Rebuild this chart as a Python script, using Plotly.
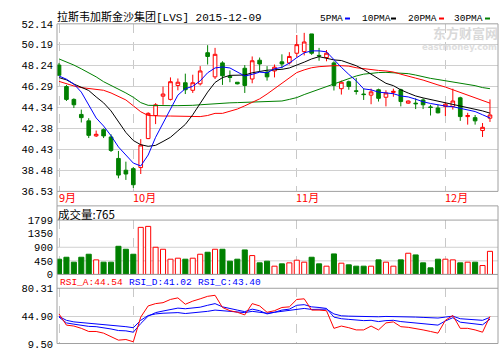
import plotly.graph_objects as go

# ---------------- data ----------------
dates = [
    "2015-09-17", "2015-09-18", "2015-09-21", "2015-09-22", "2015-09-23", "2015-09-24", "2015-09-25",
    "2015-09-28", "2015-09-29", "2015-09-30",
    "2015-10-01", "2015-10-02", "2015-10-05", "2015-10-06", "2015-10-07", "2015-10-08", "2015-10-09",
    "2015-10-12", "2015-10-13", "2015-10-14", "2015-10-15", "2015-10-16", "2015-10-19", "2015-10-20",
    "2015-10-21", "2015-10-22", "2015-10-23", "2015-10-26", "2015-10-27", "2015-10-28", "2015-10-29",
    "2015-10-30",
    "2015-11-02", "2015-11-03", "2015-11-04", "2015-11-05", "2015-11-06", "2015-11-09", "2015-11-10",
    "2015-11-11", "2015-11-12", "2015-11-13", "2015-11-16", "2015-11-17", "2015-11-18", "2015-11-19",
    "2015-11-20", "2015-11-23", "2015-11-24", "2015-11-25", "2015-11-27", "2015-11-30",
    "2015-12-01", "2015-12-02", "2015-12-03", "2015-12-04", "2015-12-07", "2015-12-08", "2015-12-09",
]
open_ = [48.30, 46.30, 45.10, 43.70, 43.10, 41.70, 42.28, 41.60, 39.60, 38.50,
         38.65, 38.75, 41.45, 43.60, 45.40, 45.10, 46.40, 46.65, 45.95, 46.55,
         49.45, 47.20, 48.50, 47.25, 46.70, 48.00, 47.00, 48.75, 47.65, 47.75,
         48.60, 48.50, 49.40, 49.55, 51.20, 49.20, 49.00, 48.50, 46.10, 46.75,
         45.90, 45.60, 45.50, 46.00, 45.30, 45.75, 46.00, 44.75, 44.75, 45.05,
         44.40, 44.30, 44.45, 44.45, 45.25, 43.50, 43.40, 42.20, 43.35]
high = [48.50, 46.45, 45.20, 44.15, 43.35, 42.20, 42.40, 41.85, 40.30, 39.30,
        38.80, 41.40, 43.90, 44.75, 46.30, 47.15, 47.05, 47.50, 47.40, 48.20,
        50.15, 49.90, 48.65, 47.80, 46.70, 48.30, 49.10, 49.00, 48.20, 48.35,
        49.30, 49.50, 51.10, 51.30, 51.20, 49.90, 49.70, 48.65, 46.85, 46.85,
        47.10, 46.10, 46.10, 46.10, 45.95, 46.10, 46.10, 45.00, 45.20, 45.20,
        44.60, 44.60, 44.80, 46.10, 45.35, 43.85, 43.65, 42.90, 45.10]
low = [47.30, 44.95, 44.30, 42.95, 41.50, 41.60, 41.50, 40.20, 37.75, 37.60,
       36.85, 38.15, 41.40, 42.80, 44.60, 45.00, 45.95, 45.60, 45.70, 46.40,
       48.35, 47.00, 46.45, 46.70, 46.50, 45.70, 46.60, 47.75, 46.85, 47.15,
       48.00, 48.35, 49.00, 49.20, 49.25, 48.70, 48.65, 45.93, 45.55, 46.00,
       45.55, 45.05, 44.65, 44.90, 44.45, 45.35, 44.45, 44.70, 44.20, 44.20,
       43.60, 43.80, 43.55, 44.15, 43.10, 42.75, 42.75, 41.60, 43.00]
close = [47.35, 45.10, 44.60, 43.40, 41.75, 41.85, 41.70, 40.35, 38.05, 38.15,
         37.15, 40.85, 43.80, 44.60, 45.60, 46.75, 46.70, 46.00, 46.65, 47.75,
         49.10, 49.30, 47.30, 47.15, 46.55, 46.40, 48.70, 48.40, 47.20, 48.10,
         48.40, 49.10, 50.20, 50.45, 49.40, 49.15, 49.40, 46.40, 46.70, 46.30,
         45.85, 45.55, 45.80, 45.20, 45.70, 45.85, 44.90, 44.95, 44.70, 44.60,
         44.35, 43.85, 44.65, 44.95, 43.50, 43.60, 43.10, 42.50, 43.65]
volume = [505, 570, 406, 570, 669, 483, 406, 406, 932, 834,
          669, 1558, 1591, 900, 834, 505, 538, 505, 538, 669,
          735, 834, 834, 439, 505, 812, 625, 384, 439, 274,
          351, 384, 472, 406, 570, 351, 274, 680, 373, 318,
          274, 274, 274, 483, 406, 274, 483, 702, 647, 384,
          219, 505, 505, 483, 384, 406, 406, 296, 765]
ma5 = [47.28, 46.98, 46.53, 45.78, 44.58, 43.37, 42.62, 41.72, 40.67, 39.92,
       39.17, 38.90, 39.92, 41.57, 42.92, 44.27, 45.50, 46.10, 46.32, 46.83,
       47.58, 48.03, 48.12, 48.03, 47.64, 47.28, 47.43, 47.64, 47.58, 47.95,
       48.09, 48.48, 48.99, 49.44, 49.62, 49.62, 49.53, 48.78, 48.09, 47.43,
       46.83, 46.08, 45.99, 45.78, 45.69, 45.63, 45.42, 45.33, 45.12, 44.88,
       44.72, 44.57, 44.48, 44.42, 44.27, 44.12, 43.97, 43.67, 43.37]
ma10 = [47.13, 46.92, 46.53, 46.23, 45.93, 45.33, 44.78, 44.03, 42.98, 42.02,
        41.27, 40.88, 40.73, 40.82, 41.18, 41.57, 42.17, 42.77, 43.67, 44.72,
        45.78, 46.68, 47.13, 47.34, 47.37, 47.37, 47.58, 47.73, 47.82, 47.86,
        47.90, 48.03, 48.27, 48.57, 48.87, 49.08, 48.93, 48.78, 48.72, 48.48,
        48.24, 47.88, 47.43, 46.98, 46.60, 46.38, 45.99, 45.69, 45.42, 45.24,
        45.09, 44.94, 44.82, 44.67, 44.48, 44.36, 44.18, 44.03, 43.82]
ma20 = [46.78, 46.55, 46.35, 46.20, 46.12, 46.04, 45.95, 45.70, 45.40, 45.05,
        44.50, 43.95, 43.60, 43.55, 43.55, 43.55, 43.55, 43.55, 43.50, 43.50,
        43.60, 43.80, 43.80, 44.00, 44.20, 44.50, 44.80, 45.15, 45.60, 46.10,
        46.55, 47.10, 47.60, 47.85, 48.05, 48.15, 48.22, 48.24, 48.24, 48.20,
        48.05, 47.95, 47.85, 47.80, 47.75, 47.65, 47.45, 47.30, 47.08, 46.90,
        46.65, 46.45, 46.25, 46.00, 45.80, 45.55, 45.30, 45.05, 44.75]
ma30 = [48.87, 48.60, 48.30, 47.95, 47.60, 47.20, 46.75, 46.40, 46.10, 45.70,
        45.30, 44.80, 44.55, 44.52, 44.52, 44.52, 44.52, 44.52, 44.55, 44.60,
        44.66, 44.70, 44.72, 44.78, 44.80, 44.82, 44.85, 44.87, 44.87, 44.87,
        44.95, 45.10, 45.27, 45.55, 45.80, 46.05, 46.23, 46.50, 46.80, 47.05,
        47.28, 47.45, 47.55, 47.60, 47.62, 47.60, 47.58, 47.50, 47.37, 47.20,
        47.06, 46.95, 46.85, 46.75, 46.60, 46.50, 46.38, 46.20, 46.10]
rsi_a = [47.7, 33.5, 32.3, 29.4, 25.4, 25.4, 23.3, 19.3, 14.4, 15.2,
         12.3, 43.7, 57.9, 60.8, 62.0, 66.1, 68.1, 60.0, 64.0, 66.9,
         70.1, 71.4, 55.9, 51.8, 49.8, 46.5, 60.8, 57.9, 49.8, 51.8,
         55.9, 56.7, 66.1, 66.9, 52.6, 52.6, 51.8, 29.4, 32.3, 30.2,
         27.4, 27.4, 32.3, 27.4, 36.3, 37.6, 31.5, 30.7, 29.4, 27.4,
         25.4, 23.3, 39.6, 45.7, 29.4, 29.4, 27.4, 24.5, 44.54]
rsi_d = [43.7, 36.3, 34.7, 33.1, 31.9, 31.5, 30.2, 28.6, 26.6, 26.2,
         24.5, 35.5, 44.9, 49.4, 51.4, 53.4, 55.1, 54.3, 55.1, 56.3,
         58.7, 60.8, 56.7, 54.3, 52.6, 50.6, 53.8, 51.8, 47.7, 49.8,
         52.6, 53.8, 58.7, 59.5, 56.7, 55.9, 54.7, 43.7, 41.6, 40.8,
         39.6, 39.2, 39.6, 38.0, 39.2, 39.6, 38.0, 37.2, 36.3, 35.5,
         34.7, 33.5, 38.8, 42.9, 37.2, 36.3, 35.1, 33.9, 41.02]
rsi_c = [44.5, 39.6, 37.6, 36.8, 36.0, 35.1, 34.3, 33.5, 32.3, 31.5,
         30.2, 39.6, 45.7, 47.7, 48.6, 49.0, 49.4, 48.2, 49.0, 49.8,
         51.0, 52.6, 51.8, 51.0, 50.2, 49.4, 51.0, 49.8, 48.6, 49.8,
         51.0, 51.8, 53.8, 54.7, 53.4, 53.4, 53.8, 47.7, 45.3, 44.9,
         44.5, 44.5, 44.5, 44.1, 44.5, 44.5, 44.1, 43.7, 43.7, 43.3,
         42.9, 42.5, 43.7, 44.9, 41.6, 40.8, 40.4, 39.6, 43.40]
price_ticks = [36.53, 38.48, 40.43, 42.38, 44.34, 46.29, 48.24, 50.19, 52.14]
vol_ticks = [0, 450, 900, 1350, 1799]
vol_grid = [450, 900]
rsi_ticks = [9.50, 44.90, 80.31]
title_text = "拉斯韦加斯金沙集团[LVS] 2015-12-09"
ma_names = ["5PMA", "10PMA", "20PMA", "30PMA"]

# ---------------- styling ----------------
W, H = 500, 351
RED, GREEN, BLUE, BLACK = "#ff0000", "#008000", "#0000ff", "#000000"
BORDER = "#a0a0a0"
GRID = "#d0d0d0"
MONO = "Liberation Mono, Noto Sans CJK SC"
CJK = "Noto Sans CJK SC, Liberation Mono"


def py(p):
    return max(0.0, min(1.0, 1 - p / H))


XL, XR = 57 / W, 498 / W
main_dom = [py(193), py(19.5)]
vol_dom = [py(279), py(222.7)]
rsi_dom = [py(351), py(293.3)]
n = len(dates)
xs = list(range(n))
x_range = [-0.27, n + 0.08]

month_first = [0] + [i for i in range(1, n) if dates[i][5:7] != dates[i - 1][5:7]]
month_labels = [f"{int(dates[i][5:7])}月" for i in month_first]

up = [c >= o for o, c in zip(open_, close)]
vol_fill = ["#ffffff" if u else GREEN for u in up]
vol_line = [RED if u else GREEN for u in up]

fig = go.Figure()

fig.add_trace(go.Candlestick(
    x=xs, open=open_, high=high, low=low, close=close,
    increasing=dict(line=dict(color=RED, width=1), fillcolor="#ffffff"),
    decreasing=dict(line=dict(color=GREEN, width=1), fillcolor=GREEN),
    whiskerwidth=0, xaxis="x", yaxis="y", showlegend=False, hoverinfo="skip",
))
for vals, col in [(ma30, GREEN), (ma20, RED), (ma10, BLACK), (ma5, BLUE)]:
    fig.add_trace(go.Scatter(x=xs, y=vals, mode="lines", line=dict(color=col, width=1),
                             xaxis="x", yaxis="y", showlegend=False, hoverinfo="skip"))

fig.add_trace(go.Bar(x=xs, y=volume, width=0.68,
                     marker=dict(color=vol_fill, line=dict(color=vol_line, width=1)),
                     xaxis="x2", yaxis="y2", showlegend=False, hoverinfo="skip"))

for vals, col in [(rsi_c, BLUE), (rsi_d, BLUE), (rsi_a, RED)]:
    fig.add_trace(go.Scatter(x=xs, y=vals, mode="lines", line=dict(color=col, width=1),
                             xaxis="x3", yaxis="y3", showlegend=False, hoverinfo="skip"))

xcommon = dict(domain=[XL, XR], range=x_range, showticklabels=False, tickvals=month_first,
               showgrid=True, gridcolor="#c8c8c8", griddash="dash", gridwidth=1,
               zeroline=False, showline=False, ticks="", fixedrange=True)
ytick_font = dict(family=MONO, size=10.5, color=BLACK)
ycommon = dict(showline=False, zeroline=False, ticks="", tickfont=ytick_font,
               gridcolor=GRID, gridwidth=1, fixedrange=True, ticklabelstandoff=3)

fig.update_layout(
    width=W, height=H, margin=dict(l=0, r=0, t=0, b=0),
    paper_bgcolor="#ffffff", plot_bgcolor="#ffffff", showlegend=False,
    boxgap=0.3,
    xaxis=dict(**xcommon, anchor="y", rangeslider=dict(visible=False)),
    xaxis2=dict(**xcommon, anchor="y2"),
    xaxis3=dict(**xcommon, anchor="y3"),
    yaxis=dict(**ycommon, domain=main_dom, anchor="x", range=[price_ticks[0], price_ticks[-1]],
               tickvals=price_ticks, ticktext=[f"{v:.2f}" for v in price_ticks], showgrid=True),
    yaxis2=dict(**ycommon, domain=vol_dom, anchor="x2", range=[0, vol_ticks[-1]],
                tickvals=vol_ticks, ticktext=[str(v) for v in vol_ticks], showgrid=False),
    yaxis3=dict(**ycommon, domain=rsi_dom, anchor="x3", range=[rsi_ticks[0], rsi_ticks[-1]],
                tickvals=rsi_ticks, ticktext=[f"{v:.2f}" for v in rsi_ticks], showgrid=True),
)

shapes = []
# panel borders
shapes.append(dict(type="rect", xref="paper", yref="paper", x0=XL, x1=XR,
                   y0=main_dom[0], y1=main_dom[1], line=dict(color=BORDER, width=1)))
shapes.append(dict(type="rect", xref="paper", yref="paper", x0=XL, x1=XR,
                   y0=vol_dom[0], y1=py(208), line=dict(color=BORDER, width=1)))
shapes.append(dict(type="line", xref="paper", yref="paper", x0=XL, x1=XR,
                   y0=vol_dom[1], y1=vol_dom[1], line=dict(color=BORDER, width=1)))
shapes.append(dict(type="rect", xref="paper", yref="paper", x0=XL, x1=XR,
                   y0=py(350.5), y1=vol_dom[0], line=dict(color=BORDER, width=1)))
shapes.append(dict(type="line", xref="paper", yref="paper", x0=XL, x1=XR,
                   y0=rsi_dom[1], y1=rsi_dom[1], line=dict(color=BORDER, width=1)))
shapes.append(dict(type="line", xref="paper", yref="paper", x0=XL, x1=XL,
                   y0=py(208), y1=main_dom[0], line=dict(color=BORDER, width=1)))
# volume grid lines
for v in vol_grid:
    shapes.append(dict(type="line", xref="paper", yref="y2", x0=XL, x1=XR, y0=v, y1=v,
                       line=dict(color=GRID, width=1), layer="below"))

annotations = []
annotations.append(dict(text=title_text, x=55 / W, y=py(12), xref="paper", yref="paper",
                        xanchor="left", yanchor="middle", showarrow=False,
                        font=dict(family=MONO, size=11, color=BLACK)))
# watermark
annotations.append(dict(text="<b>东方财富网</b>", x=499 / W, y=py(28.5), xref="paper", yref="paper",
                        xanchor="right", yanchor="middle", showarrow=False, borderpad=0,
                        font=dict(family=CJK, size=13, color="#d9d9d9")))
annotations.append(dict(text="<b>eastmoney.com</b>", x=498 / W, y=py(43.5), xref="paper", yref="paper",
                        xanchor="right", yanchor="middle", showarrow=False, borderpad=0,
                        font=dict(family="DejaVu Sans", size=8.5, color="#dedede")))
# MA legend
legend_x = [318, 360, 406, 452]
legend_cols = [BLUE, BLACK, RED, GREEN]
legend_w = [24, 28, 30, 30]
for name, lx, lw, col in zip(ma_names, legend_x, legend_w, legend_cols):
    annotations.append(dict(text=name, x=lx / W, y=py(14), xref="paper", yref="paper",
                            xanchor="left", yanchor="middle", showarrow=False,
                            font=dict(family=MONO, size=9.5, color=BLACK)))
    shapes.append(dict(type="line", xref="paper", yref="paper", x0=(lx + lw + 3) / W,
                       x1=(lx + lw + 8) / W, y0=py(14), y1=py(14), line=dict(color=col, width=2)))
# month labels
for xi, lab in zip(month_first, month_labels):
    annotations.append(dict(text=lab, x=xi - 0.2, y=py(199), xref="x", yref="paper",
                            xanchor="left", yanchor="middle", showarrow=False, borderpad=0,
                            font=dict(family=CJK, size=11, color=RED)))
# volume title
annotations.append(dict(text=f"成交量:{volume[-1]}", x=57 / W, y=py(216.5), xref="paper", yref="paper",
                        xanchor="left", yanchor="middle", showarrow=False, borderpad=0,
                        font=dict(family=CJK, size=11.5, color=BLACK)))
# RSI title
rsi_title = [("RSI_A", rsi_a[-1], RED, 58), ("RSI_D", rsi_d[-1], BLUE, 127), ("RSI_C", rsi_c[-1], BLUE, 196)]
for nm, v, col, lx in rsi_title:
    annotations.append(dict(text=f"{nm}:{v:.2f}", x=lx / W, y=py(287), xref="paper", yref="paper",
                            xanchor="left", yanchor="middle", showarrow=False,
                            font=dict(family=MONO, size=9.5, color=col)))

fig.update_layout(shapes=shapes, annotations=annotations)
fig.write_html("out.html")
